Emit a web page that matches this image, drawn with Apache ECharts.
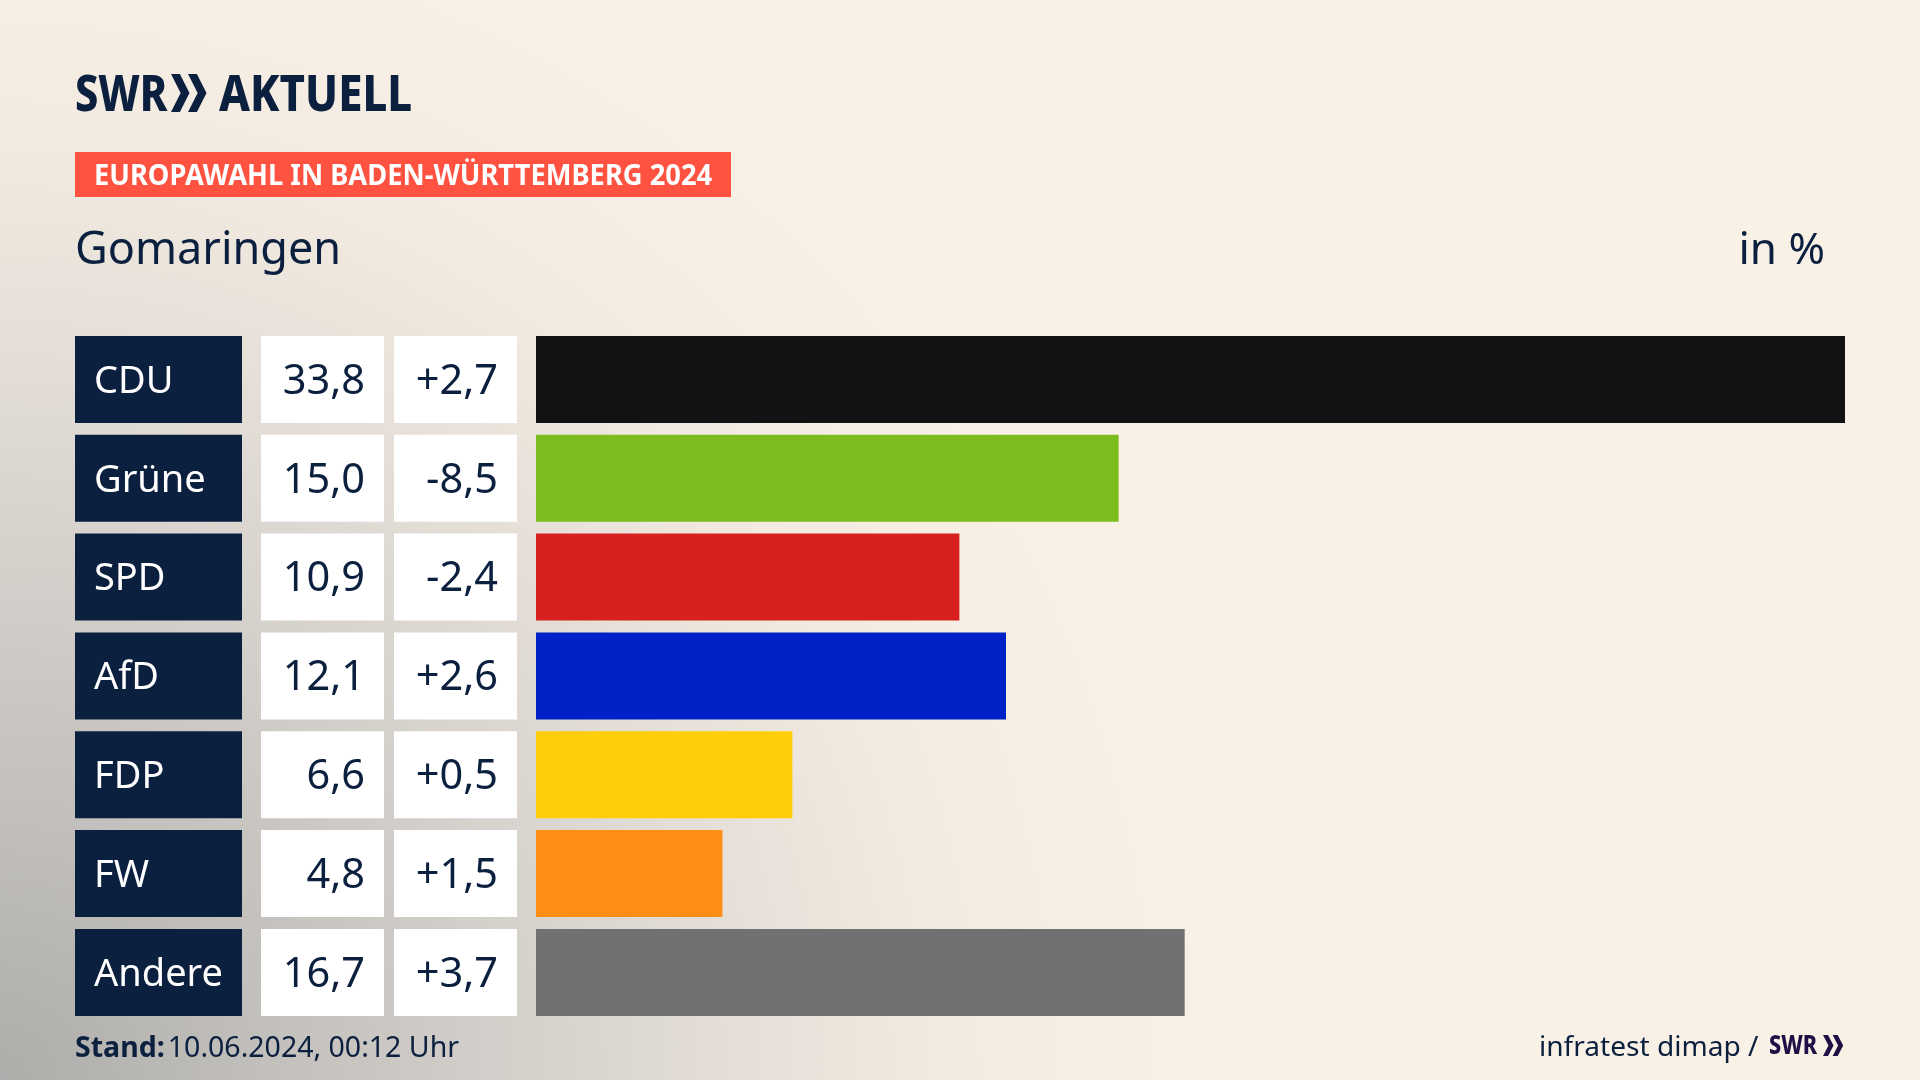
<!DOCTYPE html>
<html><head><meta charset="utf-8">
<style>html,body{margin:0;padding:0;width:1920px;height:1080px;overflow:hidden;background:#faf1e6}#c{width:1920px;height:1080px}</style>
<script src="https://cdn.jsdelivr.net/npm/echarts@6/dist/echarts.min.js"></script>
</head><body><div id="c"></div>
<script>
const parties = ['CDU','Grüne','SPD','AfD','FDP','FW','Andere'];
const shares = [33.8,15.0,10.9,12.1,6.6,4.8,16.7];
const changes = [2.7,-8.5,-2.4,2.6,0.5,1.5,3.7];
const colors = ['#121212','#7ABD1C','#D8201E','#0021C6','#FFCE0A','#FF8E16','#707173'];
const title = 'Gomaringen';
const banner = 'EUROPAWAHL IN BADEN-WÜRTTEMBERG 2024';
const unit = 'in %';

const NAVY = '#0B1F3E';
const FONT = '"Noto Sans"';
const de = v => v.toFixed(1).replace('.', ',');
const signed = v => (v > 0 ? '+' : '') + de(v);

function cellAxis(labels, offset, boxWidth, isName) {
  return {
    type: 'category', inverse: true, position: 'left', offset, data: labels,
    axisLine: {show:false}, axisTick: {show:false}, splitLine:{show:false},
    axisLabel: {
      show:true, interval:0, margin:0, hideOverlap:false,
      formatter: v => '{c|' + v + '}',
      rich: { c: {
        width: boxWidth, height: 82, lineHeight: 82,
        backgroundColor: isName ? NAVY : '#fff',
        color: isName ? '#fff' : NAVY,
        fontFamily: FONT, fontSize: isName ? 38 : 41.5,
        align: isName ? 'left' : 'right',
        padding: isName ? [5,0,0,19] : [5,19,0,0]
      } }
    }
  };
}
function chevrons(x, y, h, w, fill) {
  const s = w, t = w*0.48, m = h/2;
  const one = dx => ({ type:'polygon', silent:true, style:{fill}, shape:{points:[
    [x+dx,y],[x+dx+t,y],[x+dx+s,y+m],[x+dx+t,y+h],[x+dx,y+h],[x+dx+s-t,y+m]]} });
  return [one(0), one(w*0.92)];
}
function txt(text, x, y, size, opts) {
  const o = opts||{};
  return { type:'text', x, y, originX:0, originY:0, scaleX:o.sx||1, silent:true, style:{
    text, fill:o.fill||NAVY, fontFamily:FONT, fontSize:size, fontWeight:o.w||400,
    textAlign:o.a||'left', textVerticalAlign:'middle' } };
}
const chart = echarts.init(document.getElementById('c'), null, {renderer:'canvas', width:1920, height:1080});
chart.setOption({
  animation:false,
  backgroundColor:{type:'radial',x:0,y:1,r:1.12,colorStops:[
    {offset:0,color:'#aeadab'},{offset:0.3,color:'#c9c6c2'},{offset:0.6,color:'#e4ded7'},
    {offset:0.78,color:'#f3ebe1'},{offset:1,color:'#faf1e6'}]},
  grid:{left:536,top:330,width:1309,height:691.8,containLabel:false},
  xAxis:{type:'value',min:0,max:33.7,show:false},
  yAxis:[
    cellAxis(parties,294,148,true),
    cellAxis(shares.map(de),152,104,false),
    cellAxis(changes.map(signed),19,104,false)
  ],
  series:[{
    type:'bar', yAxisIndex:0, barWidth:87, silent:true,
    data: shares.map((v,i)=>({value:v,itemStyle:{color:colors[i]}}))
  }],
  graphic:[
    txt('SWR',75,97,50,{w:800,sx:0.83}),
    ...chevrons(171,74,38,18.5,NAVY),
    txt('AKTUELL',219,97,50,{w:800,sx:0.875}),
    {type:'rect',silent:true,shape:{x:75,y:152,width:656,height:45},style:{fill:'#FF5240'}},
    txt(banner,94,177,28,{w:700,fill:'#fff',sx:0.975}),
    txt(title,75,251,45),
    txt(unit,1825,251,44,{a:'right'}),
    {type:'text',x:75,y:1049,silent:true,style:{
      text:'{b|Stand:} {n|10.06.2024, 00:12 Uhr}',fontFamily:FONT,textVerticalAlign:'middle',
      rich:{b:{fontFamily:FONT,fontSize:28.5,fontWeight:700,fill:NAVY},n:{fontFamily:FONT,fontSize:28.5,fill:NAVY}}}},
    txt('infratest dimap /',1539,1048,28.1),
    txt('SWR',1769,1047,26,{w:800,fill:'#1F0F46',sx:0.83}),
    ...chevrons(1823,1035,21,10.5,'#1F0F46')
  ]
});
</script></body></html>
